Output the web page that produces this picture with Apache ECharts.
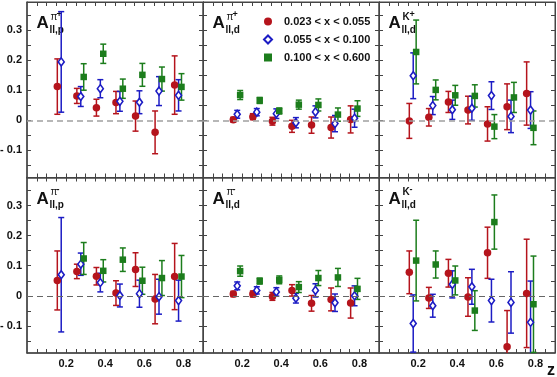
<!DOCTYPE html>
<html>
<head>
<meta charset="utf-8">
<script src="https://cdn.jsdelivr.net/npm/echarts@6/dist/echarts.min.js"></script>
<style>
html, body { margin: 0; padding: 0; background: #fff; }
#main { width: 557px; height: 377px; }
</style>
</head>
<body>
<div id="main"></div>
<script>
// z positions of the points (each x-bin is shifted a little)
var zRed = [0.155, 0.255, 0.355, 0.455, 0.555, 0.655, 0.755];
var zBlue = [0.175, 0.275, 0.375, 0.475, 0.575, 0.675, 0.775];
var zGreen = [0.19, 0.29, 0.39, 0.49, 0.59, 0.69, 0.79];
var zGreenP = [0.29, 0.39, 0.49, 0.59, 0.69, 0.79];
var zGreenKm = [0.19, 0.29, 0.39, 0.49, 0.59, 0.79];

var binNames = ['0.023 < x < 0.055', '0.055 < x < 0.100', '0.100 < x < 0.600'];
var xTicks = [0.05, 0.1, 0.15, 0.2, 0.25, 0.3, 0.35, 0.4, 0.45, 0.5, 0.55, 0.6, 0.65, 0.7, 0.75, 0.8, 0.85];
var xLabels = [0.2, 0.4, 0.6, 0.8];
var yTicks = [-0.15, -0.1, -0.05, 0, 0.05, 0.1, 0.15, 0.2, 0.25, 0.3, 0.35];
var yLabels = [-0.1, 0, 0.1, 0.2, 0.3];

// A_ll,p pi+
var ppipRedVal = [0.112, 0.081, 0.042, 0.059, 0.014, -0.040, 0.117];
var ppipRedErr = [0.092, 0.025, 0.028, 0.037, 0.050, 0.071, 0.097];
var ppipBlueVal = [0.194, 0.079, 0.105, 0.063, 0.060, 0.097, 0.083];
var ppipBlueErr = [0.167, 0.033, 0.030, 0.033, 0.038, 0.048, 0.052];
var ppipGreenVal = [0.144, 0.221, 0.105, 0.151, 0.137, 0.111];
var ppipGreenErr = [0.044, 0.032, 0.032, 0.038, 0.040, 0.044];

// A_ll,d pi+
var dpipRedVal = [0.002, 0.012, -0.003, -0.020, -0.016, -0.024, 0.003];
var dpipRedErr = [0.008, 0.010, 0.013, 0.020, 0.027, 0.035, 0.045];
var dpipBlueVal = [0.020, 0.027, 0.022, -0.008, 0.028, -0.011, 0.007];
var dpipBlueErr = [0.013, 0.012, 0.016, 0.017, 0.020, 0.027, 0.030];
var dpipGreenVal = [0.084, 0.066, 0.031, 0.052, 0.051, 0.019, 0.039];
var dpipGreenErr = [0.015, 0.010, 0.010, 0.015, 0.020, 0.022, 0.026];

// A_ll,d K+
var dkpRedVal = [-0.002, 0.010, 0.061, 0.034, -0.012, 0.045, 0.089];
var dkpRedErr = [0.058, 0.029, 0.035, 0.046, 0.057, 0.076, 0.105];
var dkpBlueVal = [0.148, 0.049, 0.035, 0.040, 0.082, 0.013, 0.034];
var dkpBlueErr = [0.076, 0.030, 0.032, 0.040, 0.046, 0.054, 0.061];
var dkpGreenVal = [0.227, 0.101, 0.083, 0.081, -0.021, 0.076, -0.025];
var dkpGreenErr = [0.106, 0.033, 0.033, 0.037, 0.040, 0.050, 0.056];

// A_ll,p pi-
var ppimRedVal = [0.051, 0.081, 0.065, 0.009, 0.087, -0.011, 0.064];
var ppimRedErr = [0.098, 0.024, 0.029, 0.041, 0.056, 0.082, 0.110];
var ppimBlueVal = [0.070, 0.105, 0.044, 0.001, 0.007, -0.003, -0.016];
var ppimBlueErr = [0.190, 0.037, 0.031, 0.038, 0.045, 0.058, 0.068];
var ppimGreenVal = [0.124, 0.083, 0.120, 0.050, 0.059, 0.064];
var ppimGreenErr = [0.053, 0.037, 0.039, 0.045, 0.058, 0.070];

// A_ll,d pi-
var dpimRedVal = [0.006, 0.006, -0.002, 0.018, -0.025, -0.012, -0.024];
var dpimRedErr = [0.009, 0.010, 0.013, 0.019, 0.026, 0.038, 0.050];
var dpimBlueVal = [0.033, 0.018, 0.013, -0.008, 0.018, -0.023, 0.000];
var dpimBlueErr = [0.013, 0.012, 0.014, 0.016, 0.022, 0.029, 0.033];
var dpimGreenVal = [0.082, 0.049, 0.053, 0.029, 0.059, 0.061, 0.023];
var dpimGreenErr = [0.017, 0.010, 0.013, 0.018, 0.025, 0.030, 0.035];

// A_ll,d K-
var dkmRedVal = [0.078, -0.007, 0.075, -0.004, 0.143, -0.169, 0.008];
var dkmRedErr = [0.071, 0.035, 0.046, 0.064, 0.085, 0.120, 0.180];
var dkmBlueVal = [-0.092, -0.033, 0.038, 0.030, -0.016, -0.022, -0.088];
var dkmBlueErr = [0.095, 0.038, 0.045, 0.058, 0.071, 0.102, 0.137];
var dkmGreenVal = [0.117, 0.104, 0.051, -0.049, 0.245, -0.028];
var dkmGreenErr = [0.134, 0.045, 0.048, 0.066, 0.090, 0.160];

var panels = [
	{ hadron: 'π', sign: '+', target: 'll,p', red: [ppipRedVal, ppipRedErr], blue: [ppipBlueVal, ppipBlueErr], green: [zGreenP, ppipGreenVal, ppipGreenErr] },
	{ hadron: 'π', sign: '+', target: 'll,d', red: [dpipRedVal, dpipRedErr], blue: [dpipBlueVal, dpipBlueErr], green: [zGreen, dpipGreenVal, dpipGreenErr] },
	{ hadron: 'K', sign: '+', target: 'll,d', red: [dkpRedVal, dkpRedErr], blue: [dkpBlueVal, dkpBlueErr], green: [zGreen, dkpGreenVal, dkpGreenErr] },
	{ hadron: 'π', sign: '-', target: 'll,p', red: [ppimRedVal, ppimRedErr], blue: [ppimBlueVal, ppimBlueErr], green: [zGreenP, ppimGreenVal, ppimGreenErr] },
	{ hadron: 'π', sign: '-', target: 'll,d', red: [dpimRedVal, dpimRedErr], blue: [dpimBlueVal, dpimBlueErr], green: [zGreen, dpimGreenVal, dpimGreenErr] },
	{ hadron: 'K', sign: '-', target: 'll,d', red: [dkmRedVal, dkmRedErr], blue: [dkmBlueVal, dkmBlueErr], green: [zGreenKm, dkmGreenVal, dkmGreenErr] }
];

var RED = '#b5141c', BLUE = '#1c1cc4', GREEN = '#1c7d1c';
var FONT = 'Liberation Sans, Arial, sans-serif';
var gridLeft = [27, 203, 379], gridW = 176;
var gridTop = [2, 177.5], gridH = 175.5;

function fmtY(v) {
	if (Math.abs(v) < 1e-9) return '0';
	if (v < 0) return '- ' + Math.abs(v).toFixed(1);
	return v.toFixed(1);
}

function errBars(idx, xs, vals, errs, color) {
	return {
		type: 'custom',
		xAxisIndex: 2 * idx,
		yAxisIndex: 2 * idx,
		silent: true,
		z: 2,
		data: xs.map(function(x, k) { return [x, vals[k], errs[k]]; }),
		renderItem: function(params, api) {
			var x = api.value(0), y = api.value(1), e = api.value(2);
			var cs = params.coordSys;
			var hi = api.coord([x, y + e]), lo = api.coord([x, y - e]);
			var top = cs.y, bot = cs.y + cs.height;
			var st = { stroke: color, lineWidth: 1.5 };
			var kids = [{ type: 'line', shape: { x1: hi[0], y1: Math.max(hi[1], top), x2: lo[0], y2: Math.min(lo[1], bot) }, style: st }];
			if (hi[1] >= top) kids.push({ type: 'line', shape: { x1: hi[0] - 3, y1: hi[1], x2: hi[0] + 3, y2: hi[1] }, style: st });
			if (lo[1] <= bot) kids.push({ type: 'line', shape: { x1: lo[0] - 3, y1: lo[1], x2: lo[0] + 3, y2: lo[1] }, style: st });
			return { type: 'group', children: kids };
		}
	};
}

var grids = [], xAxes = [], yAxes = [], series = [], graphics = [];

panels.forEach(function(p, i) {
	var row = Math.floor(i / 3), col = i % 3;
	grids.push({
		left: gridLeft[col], top: gridTop[row], width: gridW, height: gridH,
		show: true, borderColor: '#444', borderWidth: 1, outerBoundsMode: 'none'
	});
	['bottom', 'top'].forEach(function(pos) {
		xAxes.push({
			gridIndex: i, type: 'value', min: 0, max: 0.9, position: pos,
			axisLine: { show: true, onZero: false, lineStyle: { color: '#444', width: pos == 'bottom' ? 1.5 : 1 } },
			axisTick: { show: true, inside: true, length: 4, customValues: xTicks, lineStyle: { color: '#444' } },
			axisLabel: {
				show: pos == 'bottom' && row == 1, customValues: xLabels, margin: 5,
				fontFamily: FONT, fontWeight: 'bold', fontSize: 11, color: '#111',
				formatter: function(v) { return v.toFixed(1); }
			},
			splitLine: { show: false }
		});
	});
	['left', 'right'].forEach(function(pos) {
		yAxes.push({
			gridIndex: i, type: 'value', min: -0.19, max: 0.393, position: pos,
			axisLine: { show: true, onZero: false, lineStyle: { color: '#444', width: (pos == 'left' && col == 0) ? 1.5 : 1 } },
			axisTick: { show: true, inside: true, length: 4, customValues: yTicks, lineStyle: { color: '#444' } },
			axisLabel: {
				show: pos == 'left' && col == 0, customValues: yLabels, margin: 5,
				fontFamily: FONT, fontWeight: 'bold', fontSize: 11, color: '#111',
				formatter: fmtY
			},
			splitLine: { show: false }
		});
	});

	series.push(errBars(i, zRed, p.red[0], p.red[1], RED));
	series.push(errBars(i, zBlue, p.blue[0], p.blue[1], BLUE));
	series.push(errBars(i, p.green[0], p.green[1], p.green[2], GREEN));

	series.push({
		name: binNames[0], type: 'scatter', xAxisIndex: 2 * i, yAxisIndex: 2 * i, z: 3,
		symbol: 'circle', symbolSize: 7.5, itemStyle: { color: RED, opacity: 1 },
		data: zRed.map(function(x, k) { return [x, p.red[0][k]]; }),
		markLine: {
			silent: true, symbol: ['none', 'none'], label: { show: false },
			lineStyle: { type: [6, 4], color: row == 0 ? '#a0a0a0' : '#666', width: row == 0 ? 1.6 : 1 },
			data: [{ yAxis: 0 }]
		}
	});
	series.push({
		name: binNames[1], type: 'scatter', xAxisIndex: 2 * i, yAxisIndex: 2 * i, z: 3,
		symbol: 'diamond', symbolSize: [6, 8],
		itemStyle: { color: '#fff', borderColor: BLUE, borderWidth: 1.6, opacity: 1 },
		data: zBlue.map(function(x, k) { return [x, p.blue[0][k]]; })
	});
	series.push({
		name: binNames[2], type: 'scatter', xAxisIndex: 2 * i, yAxisIndex: 2 * i, z: 3,
		symbol: 'rect', symbolSize: 6.5, itemStyle: { color: GREEN, opacity: 1 },
		data: p.green[0].map(function(x, k) { return [x, p.green[1][k]]; })
	});

	// panel label A_{ll,x}^{h}
	var ax = gridLeft[col] + 9.5, ay = gridTop[row];
	graphics.push({ type: 'text', x: ax, y: ay + 30, style: { text: 'A', font: 'bold 17px ' + FONT, fill: '#111', align: 'left', verticalAlign: 'bottom' } });
	graphics.push({ type: 'text', x: ax + 13, y: ay + 33, style: { text: p.target, font: 'bold 10px ' + FONT, fill: '#111', align: 'left', verticalAlign: 'bottom' } });
	graphics.push({ type: 'text', x: ax + 14, y: ay + 20, style: { text: p.hadron, font: (p.hadron == 'K' ? 'bold ' : '') + '10px ' + FONT, fill: '#111', align: 'left', verticalAlign: 'bottom' } });
	graphics.push({ type: 'text', x: ax + (p.hadron == 'K' ? 21 : 20), y: ay + 17, style: { text: p.sign, font: 'bold 9px ' + FONT, fill: '#111', align: 'left', verticalAlign: 'bottom' } });
});

graphics.push({ type: 'text', x: 551, y: 371, style: { text: 'z', font: 'bold 16px ' + FONT, fill: '#111', align: 'center', verticalAlign: 'middle' } });

var myChart = echarts.init(document.getElementById('main'), null, { renderer: 'canvas' });
myChart.setOption({
	animation: false,
	backgroundColor: '#fff',
	grid: grids,
	xAxis: xAxes,
	yAxis: yAxes,
	legend: {
		data: binNames, orient: 'vertical', left: 258, top: 11,
		itemWidth: 8, itemHeight: 8, itemGap: 7, selectedMode: false,
		textStyle: { fontFamily: FONT, fontWeight: 'bold', fontSize: 11, color: '#111', padding: [0, 0, 0, 7] }
	},
	graphic: graphics,
	series: series
});
</script>
</body>
</html>
